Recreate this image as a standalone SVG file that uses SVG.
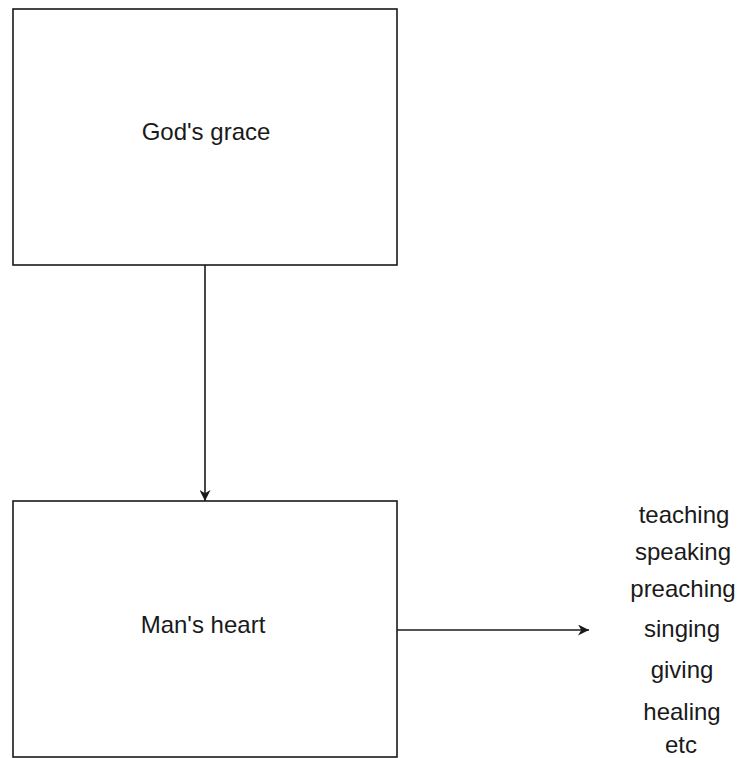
<svg xmlns="http://www.w3.org/2000/svg" width="740" height="758" viewBox="0 0 740 758">
<style>
.box{fill:#fff;stroke:#1a1a1a;stroke-width:1.6}
.lbl{font-family:"Liberation Sans",Arial,sans-serif;font-size:24px;fill:#1a1a1a;text-anchor:middle}
.con{stroke:#1a1a1a;stroke-width:1.6;fill:none}
</style>
<defs>
<marker id="arr" viewBox="0 0 10 10" refX="10" refY="5" markerWidth="11" markerHeight="11" markerUnits="userSpaceOnUse" orient="auto">
<path d="M0,0 L10,5 L0,10 L3,5 Z" fill="#1a1a1a"/>
</marker>
</defs>
<rect width="740" height="758" fill="#fff"/>
<g id="connectors">
<line class="con" x1="205" y1="265" x2="205" y2="501" marker-end="url(#arr)"/>
<line class="con" x1="397" y1="630" x2="589" y2="630" marker-end="url(#arr)"/>
</g>
<g id="gods-grace">
<rect class="box" x="13" y="9" width="384" height="256"/>
<text class="lbl" x="206" y="140">God's grace</text>
</g>
<g id="mans-heart">
<rect class="box" x="13" y="501" width="384" height="256"/>
<text class="lbl" x="203" y="633">Man's heart</text>
</g>
<g id="activities">
<text class="lbl" x="684" y="523">teaching</text>
<text class="lbl" x="683" y="560">speaking</text>
<text class="lbl" x="683" y="597">preaching</text>
<text class="lbl" x="682" y="637">singing</text>
<text class="lbl" x="682" y="678">giving</text>
<text class="lbl" x="682" y="720">healing</text>
<text class="lbl" x="681" y="753">etc</text>
</g>
</svg>
